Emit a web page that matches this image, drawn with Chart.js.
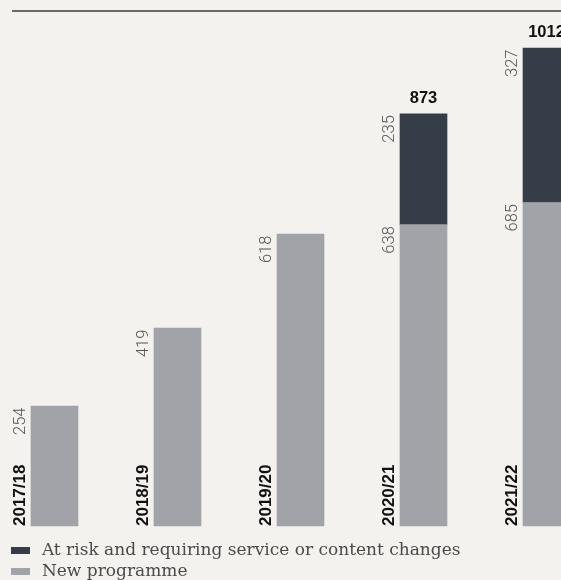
<!DOCTYPE html>
<html>
<head>
<meta charset="utf-8">
<script src="https://cdn.jsdelivr.net/npm/chart.js@4"></script>
<style>
  html, body { margin: 0; padding: 0; background: #f3f2ee; overflow: hidden; }
  #wrap { width: 561px; height: 580px; overflow: hidden; }
</style>
</head>
<body>
<div id="wrap"><canvas id="barChart" width="561" height="600"></canvas></div>
<script>
const years = ['2017/18', '2018/19', '2019/20', '2020/21', '2021/22'];
const newProgramme = [254, 419, 618, 638, 685];
const atRisk = [null, null, null, 235, 327];
const seriesNames = ['New programme', 'At risk and requiring service or content changes'];

// totals over the bars that have an at-risk part
const totals = years.map((y, i) => atRisk[i] == null ? null : newProgramme[i] + atRisk[i]);

const barLabels = {
  id: 'barLabels',
  beforeDraw(chart) {
    const ctx = chart.ctx;
    ctx.save();
    ctx.strokeStyle = '#3d3d3d';
    ctx.lineWidth = 1.5;
    ctx.beginPath();
    ctx.moveTo(12, 11);
    ctx.lineTo(chart.width, 11);
    ctx.stroke();
    ctx.restore();
  },
  afterDatasetsDraw(chart) {
    const ctx = chart.ctx;
    ctx.save();
    // segment values, rotated, left of each segment top
    chart.data.datasets.forEach((ds, d) => {
      chart.getDatasetMeta(d).data.forEach((bar, i) => {
        const v = ds.data[i];
        if (v == null) return;
        const p = bar.getProps(['x', 'y', 'width'], true);
        ctx.save();
        ctx.translate(p.x - p.width / 2 - 6.5, p.y + 1.5);
        ctx.rotate(-Math.PI / 2);
        ctx.font = '300 16.5px Roboto';
        ctx.fillStyle = '#555555';
        ctx.textAlign = 'right';
        ctx.textBaseline = 'alphabetic';
        ctx.fillText(String(v), 0, 0);
        ctx.restore();
      });
    });
    // year labels at the foot, totals on top
    chart.getDatasetMeta(0).data.forEach((bar, i) => {
      const p = bar.getProps(['x', 'width', 'base'], true);
      ctx.save();
      ctx.translate(p.x - p.width / 2 - 6.5, p.base);
      ctx.rotate(-Math.PI / 2);
      ctx.font = 'bold 17px "Liberation Sans"';
      ctx.fillStyle = '#111111';
      ctx.textAlign = 'left';
      ctx.textBaseline = 'alphabetic';
      ctx.fillText(years[i], 0, 0);
      ctx.restore();

      if (totals[i] != null) {
        const top = chart.getDatasetMeta(1).data[i].y;
        ctx.font = 'bold 16.5px "Liberation Sans"';
        ctx.fillStyle = '#111111';
        ctx.textAlign = 'center';
        ctx.textBaseline = 'alphabetic';
        ctx.fillText(String(totals[i]), p.x, top - 10.7);
      }
    });
    ctx.restore();
  }
};

new Chart(document.getElementById('barChart'), {
  type: 'bar',
  data: {
    labels: years,
    datasets: [
      {
        label: seriesNames[0],
        data: newProgramme,
        backgroundColor: '#a2a3a8',
        borderWidth: 0,
        clip: false
      },
      {
        label: seriesNames[1],
        data: atRisk,
        backgroundColor: '#353e48',
        borderWidth: 0,
        clip: false
      }
    ]
  },
  options: {
    responsive: false,
    animation: false,
    barThickness: 47,
    layout: {
      padding: { left: 7, right: 14.5, top: 6.5, bottom: 10 }
    },
    scales: {
      x: {
        stacked: true,
        display: false,
        offset: false
      },
      y: {
        stacked: true,
        min: -25.4,
        max: 1100,
        grid: { display: false },
        border: { display: false },
        ticks: { display: false },
        afterFit(scale) { scale.width = 47.5; }
      }
    },
    plugins: {
      tooltip: { enabled: false },
      legend: {
        position: 'bottom',
        align: 'start',
        reverse: true,
        labels: {
          boxWidth: 19,
          boxHeight: 7,
          padding: 4,
          color: '#4a4a4a',
          font: { family: '"DejaVu Serif"', size: 17 },
          generateLabels(chart) {
            const items = Chart.defaults.plugins.legend.labels.generateLabels(chart);
            items.forEach(it => { it.text = '\u2009' + it.text; it.lineWidth = 0; });
            return items;
          }
        }
      }
    }
  },
  plugins: [barLabels]
});
</script>
</body>
</html>
